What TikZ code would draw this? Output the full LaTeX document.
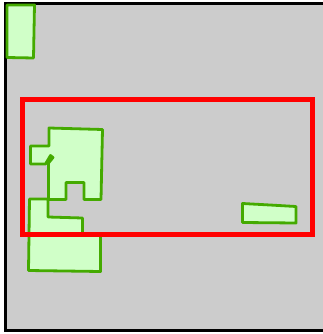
\documentclass[tikz,border=0pt]{standalone}
\definecolor{field}{HTML}{CCCCCC}
\definecolor{leaf}{HTML}{44AA00}
\definecolor{leaffill}{HTML}{D0FFC8}
\begin{document}
\begin{tikzpicture}[x=1pt,y=-1pt,
  patch/.style={draw=leaf,fill=leaffill,line width=2.8pt,line join=round},
  zone/.style={draw=red,line width=5pt}]
  \useasboundingbox (0,0) rectangle (322,334);
  % field with black border (right side runs off the page)
  \draw[line width=3pt,fill=field] (5.5,3.5) rectangle (326,330.5);
  % patch in the top left corner
  \draw[patch] (7,5)--(34.5,5)--(33.5,58)--(7,57.5)--cycle;
  % large patch with arm, hook and notch
  \draw[patch] (49,128)--(49,146)--(30.5,146)--(30.5,164)--(45.5,164)
        --(50.5,155.5)--(53,157.5)--(48.5,163)--(48.5,199.5)--(66,199.5)
        --(66,182.5)--(84,182.5)--(84,199.5)--(101,199.5)--(102.5,129.5)--cycle;
  % stepped patch below it
  \draw[patch] (29.5,199)--(48,199)--(48,217)--(82.5,218)--(82.5,235)
        --(100.5,235)--(100.5,271.5)--(28.5,270.5)--cycle;
  % small strip on the right
  \draw[patch] (242.5,203.5)--(270,205)--(296,206.5)--(296,223)--(242.5,222.5)--cycle;
  % selection window
  \draw[zone] (22.5,99.5) rectangle (312,234.5);
\end{tikzpicture}
\end{document}
